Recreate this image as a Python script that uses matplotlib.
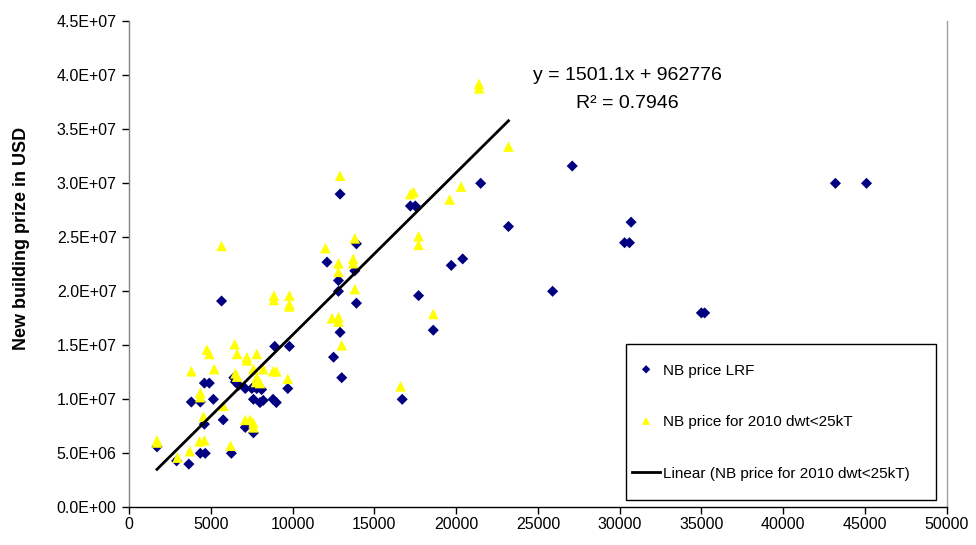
import matplotlib
matplotlib.use("Agg")
import matplotlib.pyplot as plt
import numpy as np
from matplotlib.legend_handler import HandlerLine2D, HandlerPathCollection

plt.rcParams['font.family'] = ['Liberation Sans', 'DejaVu Sans']

# ---- data: NB price LRF (dwt, USD) ----
lrf_x = [1700, 2900, 3650, 4350, 4650, 6250, 3800, 4350, 5150, 4600, 5750,
         4600, 4900, 5650,
         6400, 6700, 6500, 7100, 7500, 7800, 8100, 9700,
         7600, 8000, 8200, 8800, 9000, 7100, 7600,
         8900, 9800,
         12100, 12800, 12800, 13800, 13900, 13900, 12900, 17200, 17500, 17700,
         12900, 12500, 13000, 16700, 18600, 19700, 20400, 21500, 23200,
         27100, 25900, 30700, 30300, 30600, 35000, 35200, 43200, 45100]
lrf_y = [5.6e6, 4.3e6, 4.0e6, 5.0e6, 5.0e6, 5.0e6, 9.75e6, 9.75e6, 10.0e6, 7.7e6, 8.1e6,
         11.5e6, 11.5e6, 19.1e6,
         12.0e6, 11.3e6, 11.6e6, 11.0e6, 11.0e6, 11.0e6, 10.9e6, 11.0e6,
         10.0e6, 9.7e6, 9.9e6, 10.0e6, 9.7e6, 7.4e6, 6.9e6,
         14.9e6, 14.9e6,
         22.7e6, 21.0e6, 20.0e6, 21.9e6, 24.4e6, 18.9e6, 29.0e6, 27.9e6, 27.9e6, 19.6e6,
         16.2e6, 13.9e6, 12.0e6, 10.0e6, 16.4e6, 22.4e6, 23.0e6, 30.0e6, 26.0e6,
         31.6e6, 20.0e6, 26.4e6, 24.5e6, 24.5e6, 18.0e6, 18.0e6, 30.0e6, 30.0e6]

# ---- data: NB price for 2010 dwt<25kT ----
nb_x = [1700, 1700, 2950, 3700, 4300, 4600, 6200, 3800, 5200, 4350, 4350, 5750, 4550,
        5650, 8850, 8850, 9800, 9800, 9800,
        6450, 4750, 4900, 6600, 7200, 7200, 7800,
        6500, 6600, 7600, 8200, 8800, 9000, 7800, 7900, 8000, 7750, 9700,
        7100, 7400, 7600, 7600,
        12900, 17200, 17400, 13800, 17700, 17700, 12000, 12800, 12800, 13700, 13700,
        13800, 12400, 12800, 12800, 13000, 16600, 19600, 20300, 18600, 21400, 21400, 23200]
nb_y = [6.0e6, 6.2e6, 4.6e6, 5.2e6, 6.1e6, 6.2e6, 5.7e6, 12.6e6, 12.8e6, 10.6e6, 10.2e6, 9.4e6, 8.4e6,
        24.2e6, 19.6e6, 19.2e6, 19.6e6, 18.8e6, 18.6e6,
        15.1e6, 14.6e6, 14.2e6, 14.2e6, 13.9e6, 13.6e6, 14.2e6,
        12.4e6, 12.1e6, 12.8e6, 12.8e6, 12.6e6, 12.6e6, 12.0e6, 11.7e6, 11.5e6, 11.6e6, 11.9e6,
        8.1e6, 8.1e6, 7.8e6, 7.4e6,
        30.7e6, 29.0e6, 29.2e6, 24.9e6, 25.1e6, 24.3e6, 24.0e6, 22.6e6, 21.8e6, 23.0e6, 22.6e6,
        20.2e6, 17.5e6, 17.6e6, 17.2e6, 15.0e6, 11.2e6, 28.5e6, 29.7e6, 17.9e6, 39.2e6, 38.8e6, 33.4e6]

# ---- trendline (as shown on chart) ----
slope = 1501.1
intercept = 962776
r2 = 0.7946

x_ticks = list(range(0, 50001, 5000))
y_ticks = [i * 5e6 for i in range(10)]

HANDLE_Y = 4.0  # legend handle centre above text baseline (points)


class CenteredLine(HandlerLine2D):
    def create_artists(self, legend, orig_handle, xdescent, ydescent, width,
                       height, fontsize, trans):
        arts = super().create_artists(legend, orig_handle, xdescent, ydescent,
                                      width, height, fontsize, trans)
        for a in arts:
            yd = np.asarray(a.get_ydata(), dtype=float)
            a.set_ydata(np.full_like(yd, HANDLE_Y))
        return arts


class CenteredScatter(HandlerPathCollection):
    def get_ydata(self, legend, xdescent, ydescent, width, height, fontsize):
        return np.full(self.get_numpoints(legend), HANDLE_Y)


fig = plt.figure(figsize=(9.76, 5.45), dpi=100)
ax = fig.add_axes([129.2 / 976, 1 - 507.3 / 545, 817.4 / 976, 486 / 545])

sc1 = ax.scatter(lrf_x, lrf_y, marker='D', s=32, color='#000080',
                 edgecolors='none', zorder=2, label='NB price LRF')
sc2 = ax.scatter(nb_x, nb_y, marker='^', s=58, color='#FFFF00',
                 edgecolors='none', zorder=3, label='NB price for 2010 dwt<25kT')
tx = np.array([min(nb_x), max(nb_x)])
ln, = ax.plot(tx, slope * tx + intercept, color='black', lw=2.0, zorder=4,
              label='Linear (NB price for 2010 dwt<25kT)')

ax.set_xlim(0, 50000)
ax.set_ylim(0, 4.5e7)
ax.set_xticks(x_ticks)
ax.set_xticklabels([str(v) for v in x_ticks])
ax.set_yticks(y_ticks)
ax.set_yticklabels([f"{v:.1E}" for v in y_ticks])
ax.tick_params(axis='both', direction='out', length=5, width=1, labelsize=11.5,
               colors='black')
ax.tick_params(axis='x', pad=2)
ax.tick_params(axis='y', pad=4)

ax.spines['top'].set_visible(False)
ax.spines['right'].set_color('#a0a0a0')
ax.spines['left'].set_color('#808080')
ax.spines['bottom'].set_color('black')
for s in ax.spines.values():
    s.set_linewidth(1)

fig.text(22 / 976, 1 - 238 / 545, 'New building prize in USD', rotation=90,
         ha='center', va='center', fontsize=13, fontweight='bold')

fig.text(627 / 976, 1 - 76 / 545, f'y = {slope}x + {intercept}', ha='center',
         va='center', fontsize=14)
fig.text(627 / 976, 1 - 103 / 545, f'R² = {r2}', ha='center', va='center',
         fontsize=14)

leg = ax.legend(handles=[sc1, sc2, ln],
                handler_map={sc1: CenteredScatter(), sc2: CenteredScatter(),
                             ln: CenteredLine()},
                loc='lower left', bbox_to_anchor=(0.6078, 0.015, 0.3792, 0.323),
                mode='expand', borderaxespad=0, fontsize=11, frameon=True,
                fancybox=False, shadow=False, framealpha=1, edgecolor='black',
                borderpad=0.4, handleheight=3.7, labelspacing=0.72,
                handlelength=1.83, handletextpad=0.2, markerscale=0.75,
                scatterpoints=1)
leg.get_frame().set_linewidth(1)

fig.savefig('out.png', dpi=100)
